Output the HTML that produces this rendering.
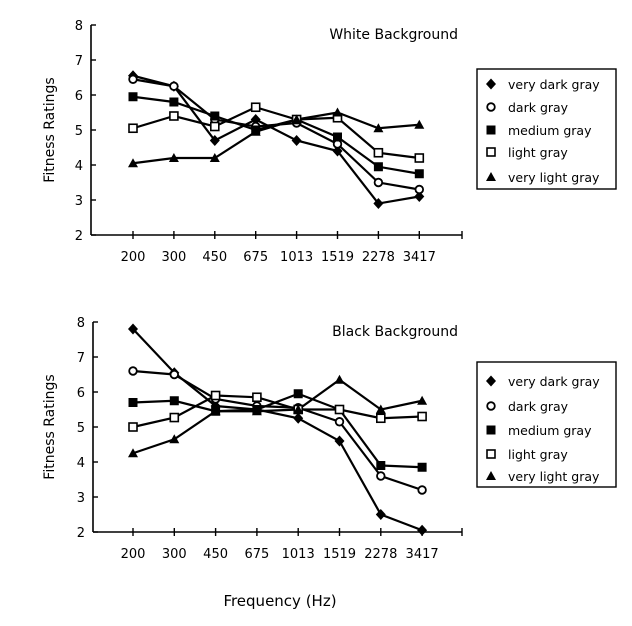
<!DOCTYPE html>
<html><head><meta charset="utf-8"><style>
body{margin:0;background:#fff}
svg text{font-family:"DejaVu Sans","Liberation Sans",sans-serif;fill:#000}
</style></head><body>
<svg width="632" height="621" viewBox="0 0 632 621" xmlns="http://www.w3.org/2000/svg">
<defs>
<g id="dia"><path d="M0,-5.5L5,0L0,5.5L-5,0Z" fill="#000"/></g>
<g id="cir"><circle r="3.8" fill="#fff" stroke="#000" stroke-width="1.8"/></g>
<g id="sqf"><rect x="-4.5" y="-4.5" width="9" height="9" fill="#000"/></g>
<g id="sqo"><rect x="-4" y="-4" width="8" height="8" fill="#fff" stroke="#000" stroke-width="1.6"/></g>
<g id="tri"><path d="M0,-5L5,4L-5,4Z" fill="#000"/></g>
</defs>
<g id="charts"></g>
<text x="280" y="606" font-size="15" text-anchor="middle">Frequency (Hz)</text>
</svg>
<script>
const NS="http://www.w3.org/2000/svg";
const root=document.getElementById('charts');
function el(t,a,p){const e=document.createElementNS(NS,t);for(const k in a)e.setAttribute(k,a[k]);(p||root).appendChild(e);return e;}
const labels=["200","300","450","675","1013","1519","2278","3417"];
const names=["very dark gray","dark gray","medium gray","light gray","very light gray"];
const marks=["dia","cir","sqf","sqo","tri"];
function chart(ax,y8,y2,dx,title,data,leg){
  const Y=v=>y2-(v-2)*(y2-y8)/6, X=i=>133+i*dx;
  el('line',{x1:ax,y1:y8,x2:ax,y2:y2,stroke:'#000','stroke-width':1.6});
  el('line',{x1:ax,y1:y2,x2:462,y2:y2,stroke:'#000','stroke-width':1.6});
  for(let v=2;v<=8;v++){el('line',{x1:ax,y1:Y(v),x2:ax+5,y2:Y(v),stroke:'#000','stroke-width':1.4});
    const t=el('text',{x:ax-8,y:Y(v)+5,'font-size':13,'text-anchor':'end'});t.textContent=v;}
  for(let i=0;i<8;i++){el('line',{x1:X(i),y1:y2-4,x2:X(i),y2:y2+4,stroke:'#000','stroke-width':1.4});
    const t=el('text',{x:X(i),y:y2+26,'font-size':13,'text-anchor':'middle'});t.textContent=labels[i];}
  el('line',{x1:462,y1:y2-4,x2:462,y2:y2+4,stroke:'#000','stroke-width':1.4});
  const t=el('text',{x:458,y:y8+14,'font-size':14,'text-anchor':'end'});t.textContent=title;
  const yl=el('text',{x:0,y:0,'font-size':14,'text-anchor':'middle',transform:`translate(54,${(y8+y2)/2}) rotate(-90)`});yl.textContent="Fitness Ratings";
  data.forEach((d,k)=>{el('polyline',{points:d.map((v,i)=>X(i)+','+Y(v)).join(' '),fill:'none',stroke:'#000','stroke-width':2.2});});
  data.forEach((d,k)=>{d.forEach((v,i)=>el('use',{href:'#'+marks[k],x:X(i),y:Y(v)}));});
  el('rect',{x:477,y:leg[0],width:139,height:leg[1],fill:'#fff',stroke:'#000','stroke-width':1.4});
  leg[2].forEach((yy,k)=>{el('use',{href:'#'+marks[k],x:491,y:yy});const tt=el('text',{x:508,y:yy+5,'font-size':12.5});tt.textContent=names[k];});
}
chart(91,25,235,40.9,"White Background",[
 [6.55,6.25,4.7,5.3,4.7,4.4,2.9,3.1],
 [6.45,6.25,5.3,5.1,5.2,4.6,3.5,3.3],
 [5.95,5.8,5.4,5.0,5.3,4.8,3.95,3.75],
 [5.05,5.4,5.1,5.65,5.3,5.35,4.35,4.2],
 [4.05,4.2,4.2,4.95,5.3,5.5,5.05,5.15]],[69,120,[84,107,130,152,177]]);
chart(93,322,532,41.3,"Black Background",[
 [7.8,6.55,5.6,5.5,5.25,4.6,2.5,2.05],
 [6.6,6.5,5.8,5.6,5.55,5.15,3.6,3.2],
 [5.7,5.75,5.45,5.5,5.95,5.5,3.9,3.85],
 [5.0,5.27,5.9,5.85,5.5,5.5,5.25,5.3],
 [4.25,4.65,5.45,5.45,5.5,6.35,5.5,5.75]],[362,125,[381,406,430,454,476]]);
</script>
</body></html>
